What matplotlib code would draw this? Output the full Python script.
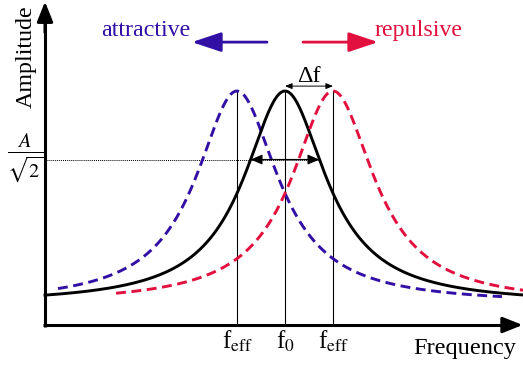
import numpy as np
import matplotlib
matplotlib.use("Agg")
import matplotlib.pyplot as plt

plt.rcParams["font.family"] = ["Liberation Serif", "DejaVu Serif"]
plt.rcParams["mathtext.fontset"] = "stix"

# resonance curves: attractive shift, free resonance, repulsive shift
curve_names = ["attractive", "free", "repulsive"]
f_res = [-1.0, 0.0, 1.0]
f_start = [-4.73, -5.0, -3.52]
f_end = [4.52, 4.96, 4.96]
peak_amp = 1.0
background = 0.09
half_width = 1.04

tick_pos = [-1.0, 0.0, 1.0]
tick_text = [r"f$_{\mathrm{eff}}$", r"f$_{0}$", r"f$_{\mathrm{eff}}$"]

BLUE = "#3210a6"
RED = "#e2103e"
colors = {"attractive": BLUE, "free": "black", "repulsive": RED}
styles = {"attractive": (0, (3.4, 1.9)), "free": "-", "repulsive": (0, (3.4, 1.9))}


def lorentz(f, f0):
    u = (f - f0) / half_width
    return background + (peak_amp - background) / (1 + u ** 2)


fig = plt.figure(figsize=(5.23, 3.67), dpi=100)
ax = fig.add_axes([0, 0, 1, 1])
ax.set_xlim(-5.9375, 4.958)
ax.set_ylim(-0.1795, 1.389)
ax.axis("off")

x0_axis = -5.0
# axes with arrow heads
ax.plot([x0_axis, x0_axis], [-0.008, 1.30], color="black", lw=2.2, solid_capstyle="butt")
ax.plot([x0_axis - 0.04, 4.75], [0, 0], color="black", lw=2.2, solid_capstyle="butt")
ax.annotate("", xy=(x0_axis, 1.382), xytext=(x0_axis, 1.25),
            arrowprops=dict(arrowstyle="-|>,head_length=0.5,head_width=0.2", mutation_scale=24,
                            color="black", lw=2.2, shrinkA=0, shrinkB=0))
ax.annotate("", xy=(4.95, 0), xytext=(4.6, 0),
            arrowprops=dict(arrowstyle="-|>,head_length=0.5,head_width=0.2", mutation_scale=24,
                            color="black", lw=2.2, shrinkA=0, shrinkB=0))

# resonance curves
for name, fr, fs, fe in zip(curve_names, f_res, f_start, f_end):
    f = np.linspace(fs, fe, 600)
    ax.plot(f, lorentz(f, fr), color=colors[name], lw=2.1, ls=styles[name],
            dash_capstyle="butt", zorder=3)

# vertical markers at the resonance peaks
for fr in f_res:
    ax.plot([fr, fr], [0, peak_amp], color="black", lw=0.8, zorder=2)

# half-power level and width of the free resonance
half = peak_amp / np.sqrt(2)
u_half = np.sqrt((peak_amp - background) / (half - background) - 1)
df_half = u_half * half_width
ax.plot([x0_axis, df_half], [half, half], color="black", lw=0.7, ls=(0, (1, 1)), zorder=1)
ax.annotate("", xy=(-df_half, half), xytext=(df_half, half),
            arrowprops=dict(arrowstyle="<|-|>,head_length=0.7,head_width=0.3", mutation_scale=10,
                            color="black", lw=0.9, shrinkA=0, shrinkB=0), zorder=4)
ax.text(-5.42, half + 0.005, r"$\frac{A}{\sqrt{2}}$", fontsize=21, ha="center", va="center")

# frequency shift
ax.annotate("", xy=(f_res[1], 1.021), xytext=(f_res[2], 1.021),
            arrowprops=dict(arrowstyle="<|-|>,head_length=0.6,head_width=0.25", mutation_scale=7,
                            color="black", lw=0.7, shrinkA=0, shrinkB=0))
ax.text(0.5, 1.038, "Δf", fontsize=17.5, ha="center", va="baseline")

# direction arrows
ax.annotate("", xy=(-1.94, 1.209), xytext=(-0.375, 1.209),
            arrowprops=dict(arrowstyle="-|>,head_length=0.9,head_width=0.3", mutation_scale=20,
                            color=BLUE, lw=2.0, shrinkA=0, shrinkB=0))
ax.annotate("", xy=(1.94, 1.209), xytext=(0.375, 1.209),
            arrowprops=dict(arrowstyle="-|>,head_length=0.9,head_width=0.3", mutation_scale=20,
                            color=RED, lw=2.0, shrinkA=0, shrinkB=0))
ax.text(-2.906, 1.235, "attractive", color=BLUE, fontsize=17.3, ha="center", va="baseline")
ax.text(2.78, 1.235, "repulsive", color=RED, fontsize=17.3, ha="center", va="baseline")

# labels
for pos, lab in zip(tick_pos, tick_text):
    ax.text(pos, -0.1026, lab, fontsize=18, ha="center", va="baseline")
ax.text(3.75, -0.124, "Frequency", fontsize=17.6, ha="center", va="baseline")
ax.text(-5.40, 1.145, "Amplitude", fontsize=17.3, ha="center", va="center", rotation=90)

fig.savefig("out.png", dpi=100)
